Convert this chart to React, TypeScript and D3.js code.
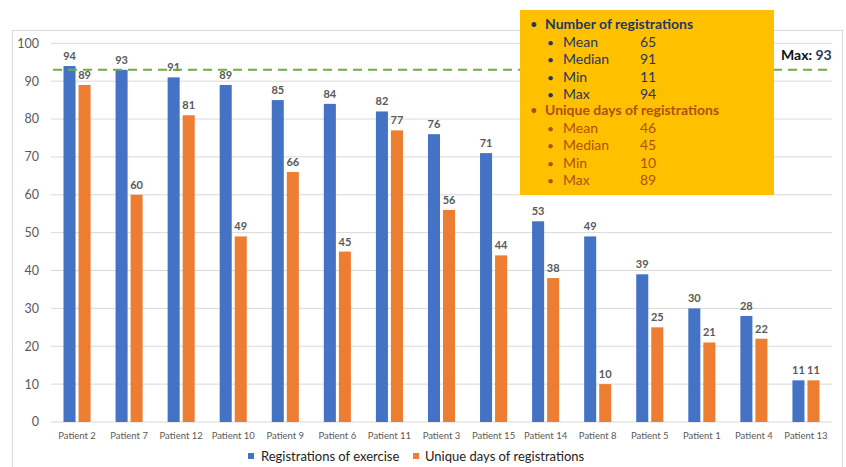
import React from "react";
import * as d3 from "d3";

const patients = [
  "Patient 2", "Patient 7", "Patient 12", "Patient 10", "Patient 9",
  "Patient 6", "Patient 11", "Patient 3", "Patient 15", "Patient 14",
  "Patient 8", "Patient 5", "Patient 1", "Patient 4", "Patient 13",
];
const registrations = [94, 93, 91, 89, 85, 84, 82, 76, 71, 53, 49, 39, 30, 28, 11];
const uniqueDays = [89, 60, 81, 49, 66, 45, 77, 56, 44, 38, 10, 25, 21, 22, 11];
const seriesNames = ["Registrations of exercise", "Unique days of registrations"];
const yTicks = [0, 10, 20, 30, 40, 50, 60, 70, 80, 90, 100];
const maxLine = 93;

const regStats = [
  ["Mean", "65"],
  ["Median", "91"],
  ["Min", "11"],
  ["Max", "94"],
];
const dayStats = [
  ["Mean", "46"],
  ["Median", "45"],
  ["Min", "10"],
  ["Max", "89"],
];

const W = 846;
const H = 467;
const BLUE = "#4472C4";
const ORANGE = "#ED7D31";
const GRID = "#d9d9d9";
const TEXT = "#595959";
const NAVY = "#1F3864";
const BROWN = "#B0500A";
const FONT = "Lato, 'Open Sans', sans-serif";

export default function App() {
  const left = 51;
  const right = 832;
  const x0 = d3
    .scaleBand<string>()
    .domain(patients)
    .range([left, right])
    .paddingInner(0.48)
    .paddingOuter(0.24);
  const x1 = d3
    .scaleBand<string>()
    .domain(seriesNames)
    .range([0, x0.bandwidth()])
    .paddingInner(0.2);
  const y = d3.scaleLinear().domain([0, 100]).range([422, 43.3]);

  const series = [
    { name: seriesNames[0], values: registrations, color: BLUE },
    { name: seriesNames[1], values: uniqueDays, color: ORANGE },
  ];

  const boxX = 520;
  const boxY = 10;

  const statRows = (
    title: string,
    rows: string[][],
    color: string,
    top: number
  ) => (
    <g fill={color} fontFamily={FONT}>
      <text x={boxX + 10} y={top} fontSize={13}>•</text>
      <text x={boxX + 25} y={top} fontSize={14} fontWeight="bold">
        {title}
      </text>
      {rows.map((r, i) => {
        const ty = top + 18 + i * 17.3;
        return (
          <g key={r[0]}>
            <text x={boxX + 27} y={ty} fontSize={12}>•</text>
            <text x={boxX + 43} y={ty} fontSize={14}>{r[0]}</text>
            <text x={boxX + 120} y={ty} fontSize={14}>{r[1]}</text>
          </g>
        );
      })}
    </g>
  );

  return (
    <svg
      width={W}
      height={H}
      style={{ position: "absolute", left: 0, top: 0, display: "block", background: "#fff" }}
    >
      <rect x={12.5} y={30.5} width={830} height={460} fill="#fff" stroke={GRID} />

      {/* gridlines and y tick labels */}
      {yTicks.map((t) => (
        <g key={t}>
          <line x1={left} x2={right} y1={y(t)} y2={y(t)} stroke={GRID} strokeWidth={1} />
          <text
            x={39}
            y={y(t)}
            dy="0.35em"
            textAnchor="end"
            fontSize={12.5}
            fill={TEXT}
            fontFamily={FONT}
          >
            {t}
          </text>
        </g>
      ))}

      {/* bars with value labels */}
      {series.map((s) => (
        <g key={s.name}>
          {patients.map((p, i) => {
            const bx = (x0(p) ?? 0) + (x1(s.name) ?? 0);
            const v = s.values[i];
            return (
              <g key={p}>
                <rect
                  x={bx}
                  y={y(v)}
                  width={x1.bandwidth()}
                  height={y(0) - y(v)}
                  fill={s.color}
                />
                <text
                  x={bx + x1.bandwidth() / 2}
                  y={y(v) - 6}
                  textAnchor="middle"
                  fontSize={11}
                  fontWeight="bold"
                  fill={TEXT}
                  fontFamily={FONT}
                >
                  {v}
                </text>
              </g>
            );
          })}
        </g>
      ))}

      {/* maximum reference line */}
      <line
        x1={left + 2}
        x2={right}
        y1={y(maxLine)}
        y2={y(maxLine)}
        stroke="#70AD47"
        strokeWidth={2}
        strokeDasharray="9,6"
      />
      <text x={781} y={60} fontSize={14} fontWeight="bold" fontFamily={FONT} fill="#111">
        Max: <tspan fill={NAVY}>{maxLine}</tspan>
      </text>

      {/* category labels */}
      {patients.map((p) => (
        <text
          key={p}
          x={(x0(p) ?? 0) + x0.bandwidth() / 2}
          y={439}
          textAnchor="middle"
          fontSize={9.5}
          fill={TEXT}
          fontFamily={FONT}
        >
          {p}
        </text>
      ))}

      {/* legend */}
      <g fontFamily={FONT} fontSize={13} fill="#222">
        <rect x={248} y={453} width={6} height={6} fill={BLUE} />
        <text x={261} y={461}>{seriesNames[0]}</text>
        <rect x={413} y={453} width={6} height={6} fill={ORANGE} />
        <text x={425} y={461}>{seriesNames[1]}</text>
      </g>

      {/* summary statistics panel */}
      <rect x={boxX} y={boxY} width={254} height={185} fill="#FFC000" />
      {statRows("Number of registrations", regStats, NAVY, 29)}
      {statRows("Unique days of registrations", dayStats, BROWN, 115)}
    </svg>
  );
}
